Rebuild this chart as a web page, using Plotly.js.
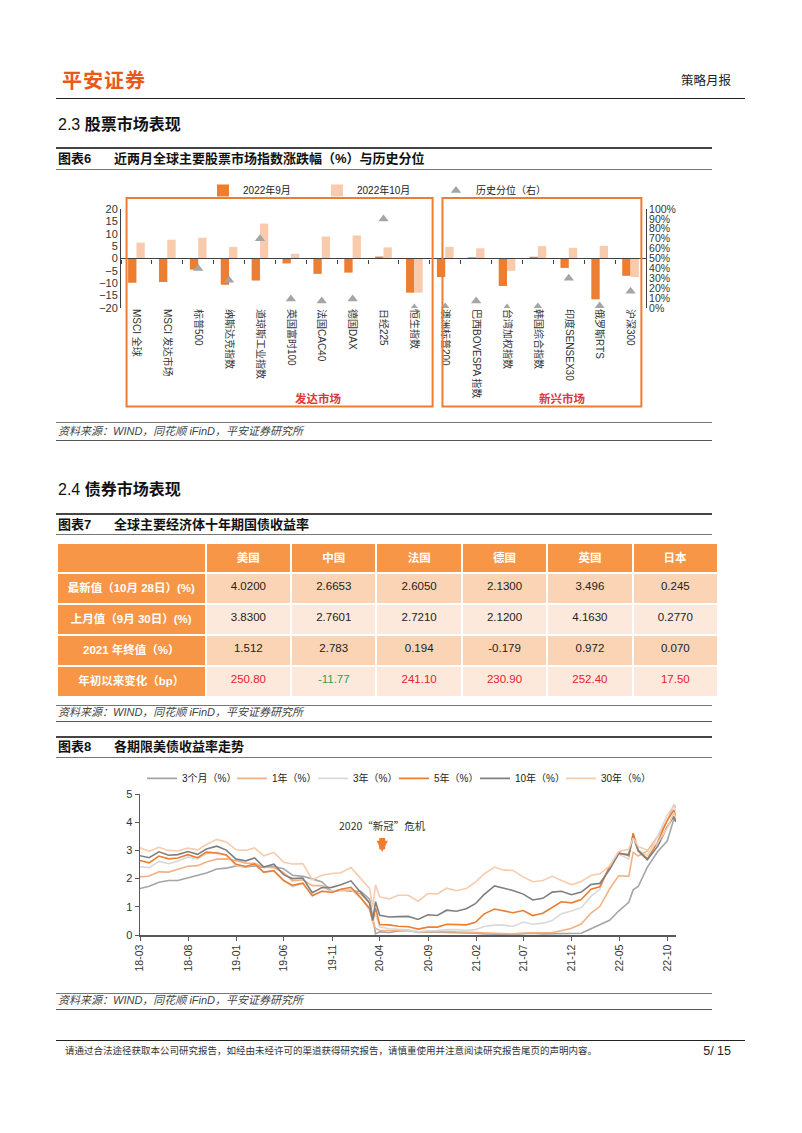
<!DOCTYPE html>
<html><head><meta charset="utf-8">
<script src="https://cdn.plot.ly/plotly-3.0.1.min.js"></script>
<style>
body{margin:0;background:#fff;}
#page{position:relative;width:802px;height:1133px;overflow:hidden;font-family:"Liberation Sans","Noto Sans CJK SC",sans-serif;color:#222;background:#fff;}
.t{position:absolute;white-space:nowrap;line-height:1;}
.hr{position:absolute;height:0;}
.chart{position:absolute;}
</style></head>
<body><div id="page">
<div class="t" style="left:62px;top:70px;font-size:20px;font-weight:bold;color:#E8591A;letter-spacing:1px;font-family:'Noto Sans CJK SC';">平安证券</div>
<div class="t" style="right:71px;top:74px;font-size:12.5px;color:#222;font-family:'Noto Sans CJK SC';">策略月报</div>
<div class="hr" style="left:56px;top:98px;width:689px;border-top:1px solid #222;"></div>

<div class="t" style="left:58px;top:115px;font-size:16px;color:#111;">2.3 <b style="font-family:'Noto Sans CJK SC';">股票市场表现</b></div>
<div class="hr" style="left:56px;top:147px;width:656px;border-top:2px solid #444;"></div>
<div class="t" style="left:58px;top:152px;font-size:13px;font-weight:bold;color:#111;">图表6</div>
<div class="t" style="left:114px;top:152px;font-size:13px;font-weight:bold;color:#111;">近两月全球主要股票市场指数涨跌幅（%）与历史分位</div>
<div class="hr" style="left:56px;top:169px;width:656px;border-top:1px solid #777;"></div>
<div id="c1" class="chart" style="left:56px;top:175px;width:662px;height:240px;"></div>
<div class="hr" style="left:56px;top:422px;width:656px;border-top:1px solid #777;"></div>
<div class="t" style="left:58px;top:426px;font-size:11px;font-style:italic;color:#444;">资料来源：WIND，同花顺 iFinD，平安证券研究所</div>
<div class="hr" style="left:56px;top:440px;width:656px;border-top:1px solid #555;"></div>

<div class="t" style="left:58px;top:480px;font-size:16px;color:#111;">2.4 <b style="font-family:'Noto Sans CJK SC';">债券市场表现</b></div>
<div class="hr" style="left:56px;top:513px;width:656px;border-top:2px solid #444;"></div>
<div class="t" style="left:58px;top:518px;font-size:13px;font-weight:bold;color:#111;">图表7</div>
<div class="t" style="left:114px;top:518px;font-size:13px;font-weight:bold;color:#111;">全球主要经济体十年期国债收益率</div>
<div class="hr" style="left:56px;top:534px;width:656px;border-top:1px solid #777;"></div>
<div id="c2" class="chart" style="left:57px;top:543px;width:661px;height:160px;"></div>
<div class="hr" style="left:56px;top:705px;width:656px;border-top:1px solid #777;"></div>
<div class="t" style="left:58px;top:707px;font-size:11px;font-style:italic;color:#444;">资料来源：WIND，同花顺 iFinD，平安证券研究所</div>
<div class="hr" style="left:56px;top:721px;width:656px;border-top:1px solid #555;"></div>

<div class="hr" style="left:56px;top:736px;width:656px;border-top:2px solid #444;"></div>
<div class="t" style="left:58px;top:740px;font-size:13px;font-weight:bold;color:#111;">图表8</div>
<div class="t" style="left:114px;top:740px;font-size:13px;font-weight:bold;color:#111;">各期限美债收益率走势</div>
<div class="hr" style="left:56px;top:757px;width:656px;border-top:1px solid #777;"></div>
<div id="c3" class="chart" style="left:56px;top:762px;width:662px;height:230px;"></div>
<div class="hr" style="left:56px;top:993px;width:656px;border-top:1px solid #777;"></div>
<div class="t" style="left:58px;top:995px;font-size:11px;font-style:italic;color:#444;">资料来源：WIND，同花顺 iFinD，平安证券研究所</div>
<div class="hr" style="left:56px;top:1009px;width:656px;border-top:1px solid #555;"></div>

<div class="hr" style="left:56px;top:1040px;width:689px;border-top:1px solid #222;"></div>
<div class="t" style="left:65px;top:1046px;font-size:9.5px;color:#333;font-family:'Noto Sans CJK SC';">请通过合法途径获取本公司研究报告，如经由未经许可的渠道获得研究报告，请慎重使用并注意阅读研究报告尾页的声明内容。</div>
<div class="t" style="right:71px;top:1045px;font-size:12.5px;color:#222;">5/ 15</div>
</div>
<script>
const FONT = 'Liberation Sans, Noto Sans CJK SC, sans-serif';
const CFG = {displayModeBar:false, staticPlot:true};

// ---------- Chart 6 data ----------
const categories = ['MSCI 全球','MSCI 发达市场','标普500','纳斯达克指数','道琼斯工业指数','英国富时100','法国CAC40','德国DAX','日经225','恒生指数','澳洲标普200','巴西BOVESPA 指数','台湾加权指数','韩国综合指数','印度SENSEX30','俄罗斯RTS','沪深300'];
const sepChange = [-9.8, -9.5, -4.5, -10.6, -8.9, -2.0, -6.2, -5.7, 0.8, -13.8, -7.5, 0.5, -11.1, 0.7, -3.8, -16.5, -7.0];
const octChange = [6.4, 7.6, 8.4, 4.7, 14.1, 1.9, 8.9, 9.3, 4.5, -13.8, 4.7, 4.1, -5.0, 5.0, 4.3, 5.1, -7.5];
const histPct = [null, null, 0.40, 0.28, 0.70, 0.09, 0.07, 0.09, 0.90, 0.00, 0.01, 0.07, 0.00, 0.01, 0.30, 0.02, 0.17];
const seriesNames6 = ['2022年9月','2022年10月','历史分位（右）'];
const groupNames = ['发达市场','新兴市场'];

// ---------- Chart 7 data ----------
const tableHeader = ['', '美国', '中国', '法国', '德国', '英国', '日本'];
const rowLabels = ['最新值（10月 28日）(%)', '上月值（9月 30日）(%)', '2021 年终值（%）', '年初以来变化（bp）'];
const latestYield = ['4.0200', '2.6653', '2.6050', '2.1300', '3.496', '0.245'];
const prevMonthYield = ['3.8300', '2.7601', '2.7210', '2.1200', '4.1630', '0.2770'];
const yearEnd2021 = ['1.512', '2.783', '0.194', '-0.179', '0.972', '0.070'];
const ytdChangeBp = ['250.80', '-11.77', '241.10', '230.90', '252.40', '17.50'];

// ---------- Chart 8 data ----------
const dates = ['2018-03-01','2018-03-30','2018-04-30','2018-05-31','2018-06-29','2018-07-31','2018-08-31','2018-09-28','2018-10-31','2018-11-30','2018-12-31',
'2019-01-31','2019-02-28','2019-03-29','2019-04-30','2019-05-31','2019-06-28','2019-07-31','2019-08-30','2019-09-30','2019-10-31','2019-11-29','2019-12-31',
'2020-01-31','2020-02-28','2020-03-09','2020-03-18','2020-03-31','2020-04-30','2020-05-29','2020-06-30','2020-07-31','2020-08-31','2020-09-30','2020-10-30','2020-11-30','2020-12-31',
'2021-01-29','2021-02-26','2021-03-31','2021-04-30','2021-05-28','2021-06-30','2021-07-30','2021-08-31','2021-09-30','2021-10-29','2021-11-30','2021-12-31',
'2022-01-31','2022-02-28','2022-03-31','2022-04-29','2022-05-31','2022-06-14','2022-06-30','2022-07-29','2022-08-31','2022-09-30','2022-10-21','2022-10-28'];
const y3m = [1.65,1.73,1.87,1.93,1.93,2.03,2.11,2.20,2.34,2.37,2.45,
2.41,2.45,2.40,2.43,2.35,2.12,2.08,1.99,1.88,1.54,1.59,1.55,
1.55,1.27,0.57,0.04,0.11,0.09,0.14,0.16,0.09,0.11,0.10,0.09,0.08,0.09,
0.06,0.04,0.03,0.02,0.01,0.05,0.06,0.04,0.04,0.05,0.05,0.06,
0.22,0.35,0.52,0.85,1.16,1.60,1.72,2.41,2.96,3.33,4.10,4.02];
const y1y = [2.06,2.09,2.24,2.23,2.33,2.44,2.46,2.59,2.69,2.70,2.63,
2.55,2.54,2.40,2.39,2.21,1.92,1.96,1.75,1.75,1.53,1.60,1.59,
1.45,1.17,0.46,0.23,0.17,0.16,0.17,0.16,0.11,0.12,0.12,0.13,0.11,0.10,
0.10,0.08,0.07,0.05,0.04,0.07,0.07,0.07,0.09,0.15,0.24,0.39,
0.78,1.01,1.63,2.10,2.08,2.93,2.80,2.98,3.50,4.05,4.61,4.52];
const y3y = [2.42,2.39,2.61,2.53,2.62,2.77,2.70,2.88,2.93,2.83,2.46,
2.43,2.50,2.21,2.27,1.95,1.71,1.83,1.42,1.56,1.55,1.61,1.62,
1.30,0.89,0.47,0.75,0.29,0.22,0.19,0.18,0.11,0.15,0.16,0.19,0.19,0.17,
0.19,0.30,0.35,0.35,0.30,0.46,0.38,0.42,0.51,0.75,0.85,0.97,
1.37,1.62,2.45,2.87,2.69,3.61,2.99,2.83,3.50,4.25,4.58,4.41];
const y5y = [2.64,2.56,2.80,2.70,2.73,2.85,2.74,2.94,2.91,2.84,2.51,
2.43,2.52,2.23,2.28,1.93,1.76,1.84,1.39,1.55,1.51,1.62,1.69,
1.32,0.94,0.50,0.96,0.37,0.36,0.31,0.29,0.21,0.28,0.28,0.38,0.36,0.36,
0.45,0.75,0.92,0.86,0.79,0.87,0.69,0.77,0.98,1.18,1.14,1.26,
1.62,1.71,2.42,2.92,2.81,3.61,3.01,2.70,3.30,4.06,4.43,4.19];
const y10y = [2.81,2.74,2.95,2.83,2.85,2.96,2.86,3.05,3.15,3.01,2.69,
2.63,2.73,2.41,2.51,2.14,2.00,2.02,1.50,1.68,1.69,1.78,1.92,
1.51,1.13,0.54,1.18,0.70,0.64,0.65,0.66,0.55,0.72,0.69,0.88,0.84,0.93,
1.11,1.44,1.74,1.65,1.58,1.45,1.24,1.30,1.52,1.55,1.43,1.52,
1.79,1.83,2.32,2.89,2.85,3.49,2.98,2.67,3.15,3.83,4.21,4.02];
const y30y = [3.09,2.97,3.11,3.00,2.98,3.08,3.02,3.21,3.39,3.30,3.02,
3.00,3.09,2.81,2.93,2.58,2.52,2.53,1.96,2.12,2.18,2.21,2.39,
2.00,1.65,0.99,1.78,1.35,1.28,1.41,1.41,1.20,1.47,1.46,1.66,1.57,1.65,
1.87,2.17,2.41,2.30,2.29,2.06,1.89,1.93,2.08,1.93,1.78,1.90,
2.11,2.17,2.44,2.96,3.04,3.44,3.14,3.01,3.27,3.79,4.33,4.15];
const lineNames = ['3个月（%）','1年（%）','3年（%）','5年（%）','10年（%）','30年（%）'];
const tickDates = ['2018-03-01','2018-08-01','2019-01-01','2019-06-01','2019-11-01','2020-04-01','2020-09-01','2021-02-01','2021-07-01','2021-12-01','2022-05-01','2022-10-01'];
const tickLabels = ['18-03','18-08','19-01','19-06','19-11','20-04','20-09','21-02','21-07','21-12','22-05','22-10'];
const eventLabel = '2020“新冠”危机';
const eventDate = '2020-04-08';

// ---------- Chart 6 ----------
(function(){
  const nCat = categories.length;
  const toPaper = c => (c + 0.5) / nCat;
  const groupSpans = [[-0.32, 9.59], [9.91, 16.35]];
  const groupLabelCat = [5.9, 13.8];
  const legX = [0.1562, 0.3733, 0.60];
  const legBase = {orientation:'h', xanchor:'left', y:1.187, yanchor:'middle', font:{size:10, color:'#222'}, bgcolor:'rgba(0,0,0,0)', borderwidth:0, visible:true};
  const traces = [
    {type:'bar', x:categories, y:sepChange, name:seriesNames6[0], marker:{color:'#ED7D31'}, legend:'legend', showlegend:true},
    {type:'bar', x:categories, y:octChange, name:seriesNames6[1], marker:{color:'#F8CBAD'}, legend:'legend2', showlegend:true},
    {type:'scatter', mode:'markers', x:categories, y:histPct, xaxis:'x2', yaxis:'y2', name:seriesNames6[2],
     marker:{symbol:'triangle-up', size:9, color:'#A5A5A5'}, legend:'legend3', showlegend:true}
  ];
  const shapes = groupSpans.map(s => ({type:'rect', xref:'paper', yref:'paper', x0:toPaper(s[0]), x1:toPaper(s[1]), y0:-0.994, y1:1.112,
    line:{color:'#ED7D31', width:2}, fillcolor:'rgba(0,0,0,0)', layer:'above'}));
  const annotations = groupNames.map((g,i) => ({xref:'paper', yref:'paper', x:toPaper(groupLabelCat[i]), y:-0.905, text:'<b>'+g+'</b>',
    showarrow:false, font:{size:11.5, color:'#E0383A', family:'Noto Sans CJK SC'}, xanchor:'center', yanchor:'middle'}));
  const layout = {
    width:662, height:240, margin:{l:65, r:72, t:34, b:107, autoexpand:false},
    paper_bgcolor:'rgba(0,0,0,0)', plot_bgcolor:'rgba(0,0,0,0)',
    font:{family:FONT, size:10, color:'#333'},
    showlegend:true,
    barmode:'group', bargap:0.46, bargroupgap:0,
    xaxis:{type:'category', range:[-0.5, nCat-0.5], tickangle:90, showline:false, ticks:'', showgrid:false, zeroline:false, automargin:false,
      tickfont:{size:10, color:'#333'}},
    xaxis2:{type:'category', overlaying:'x', anchor:'free', position:0.5, range:[-0.5, nCat-0.5], ticks:'outside', tickson:'boundaries',
      ticklen:4, tickcolor:'#404040', showticklabels:false, showgrid:false, zeroline:false, showline:false},
    yaxis:{range:[-20,20], dtick:5, showgrid:false, zeroline:true, zerolinecolor:'#404040', zerolinewidth:1.5, zerolinelayer:'above traces',
      showline:true, linecolor:'#404040', linewidth:1, ticks:'', tickfont:{size:11, color:'#333'}, automargin:false},
    yaxis2:{overlaying:'y', side:'right', anchor:'x', range:[0,1], dtick:0.1, tickformat:'.0%', showgrid:false, zeroline:false,
      showline:true, linecolor:'#404040', ticks:'', tickfont:{size:10.5, color:'#333'}, automargin:false},
    legend:Object.assign({x:legX[0]}, legBase),
    legend2:Object.assign({x:legX[1]}, legBase),
    legend3:Object.assign({x:legX[2]}, legBase),
    shapes:shapes, annotations:annotations, hovermode:false
  };
  Plotly.newPlot('c1', traces, layout, CFG);
})();

// ---------- Chart 7 (table) ----------
(function(){
  const orange = '#F79646', peach = '#FBD4B6', light = '#FDE9DB';
  const rows = [latestYield, prevMonthYield, yearEnd2021, ytdChangeBp];
  const rowFill = rows.map((r,i) => i % 2 === 0 ? peach : light);
  const cols = [rowLabels.map(s => '<b>'+s+'</b>')];
  const fills = [rowLabels.map(() => orange)];
  const fcolors = [rowLabels.map(() => '#FFFFFF')];
  for (let c = 0; c < latestYield.length; c++) {
    cols.push(rows.map(r => r[c]));
    fills.push(rowFill);
    fcolors.push(rows.map((r,i) => i === rows.length-1 ? (parseFloat(r[c]) < 0 ? '#2EA24C' : '#E4202E') : '#222222'));
  }
  const trace = {
    type:'table', domain:{x:[0,1], y:[0,1]},
    columnwidth:[148, 85, 85, 85, 85, 85, 85],
    header:{values:tableHeader.map(h => '<b>'+h+'</b>'), fill:{color:orange}, line:{color:'#FFFFFF', width:2},
      font:{family:FONT, size:11.5, color:'#FFFFFF'}, height:30, align:'center'},
    cells:{values:cols, fill:{color:fills}, line:{color:'#FFFFFF', width:2},
      font:{family:FONT, size:11.5, color:fcolors}, height:31, align:'center'}
  };
  Plotly.newPlot('c2', [trace], {width:661, height:160, margin:{l:0,r:0,t:0,b:0}, paper_bgcolor:'rgba(0,0,0,0)', font:{family:FONT}}, CFG);
})();

// ---------- Chart 8 ----------
(function(){
  const series = [y3m, y1y, y3y, y5y, y10y, y30y];
  const colors = ['#A5A5A5', '#F4B183', '#D9D9D9', '#ED7D31', '#7F7F7F', '#F8CBAD'];
  const textStarts = [126, 216, 297, 378, 459, 545];
  const plotL = 84, plotW = 536;
  const traces = series.map((s,i) => ({type:'scatter', mode:'lines', x:dates, y:s, name:lineNames[i], showlegend:true,
    line:{color:colors[i], width:1.6}, legend: i === 0 ? 'legend' : 'legend'+(i+1)}));
  const layout = {
    width:662, height:230, margin:{l:plotL, r:662-plotL-plotW, t:32, b:57, autoexpand:false},
    paper_bgcolor:'rgba(0,0,0,0)', plot_bgcolor:'rgba(0,0,0,0)',
    font:{family:FONT, size:10, color:'#333'},
    showlegend:true,
    xaxis:{type:'date', range:['2018-03-01','2022-10-28'], tickmode:'array', tickvals:tickDates, ticktext:tickLabels, tickangle:-90,
      showline:true, linecolor:'#595959', linewidth:1.5, ticks:'outside', ticklen:4, tickcolor:'#595959', showgrid:false, zeroline:false,
      tickfont:{size:10.5, color:'#333'}, automargin:false},
    yaxis:{range:[0,5], dtick:1, showline:true, linecolor:'#595959', linewidth:1.5, ticks:'outside', ticklen:4, tickcolor:'#595959',
      showgrid:false, zeroline:false, tickfont:{size:11, color:'#333'}, automargin:false},
    annotations:[{x:eventDate, y:2.94, xref:'x', yref:'y', text:eventLabel, showarrow:true, ax:0, ay:-27, arrowhead:2, arrowsize:0.38,
      arrowwidth:6, arrowcolor:'#ED7D31', startstandoff:4, font:{size:10.5, color:'#333', family:'Noto Sans CJK SC'}}],
    hovermode:false
  };
  textStarts.forEach((t,i) => {
    layout[i === 0 ? 'legend' : 'legend'+(i+1)] = {orientation:'h', x:(t-40-plotL)/plotW, xanchor:'left', y:1.111, yanchor:'middle',
      font:{size:10, color:'#222'}, bgcolor:'rgba(0,0,0,0)', borderwidth:0, visible:true};
  });
  Plotly.newPlot('c3', traces, layout, CFG);
})();
</script>
</body></html>
